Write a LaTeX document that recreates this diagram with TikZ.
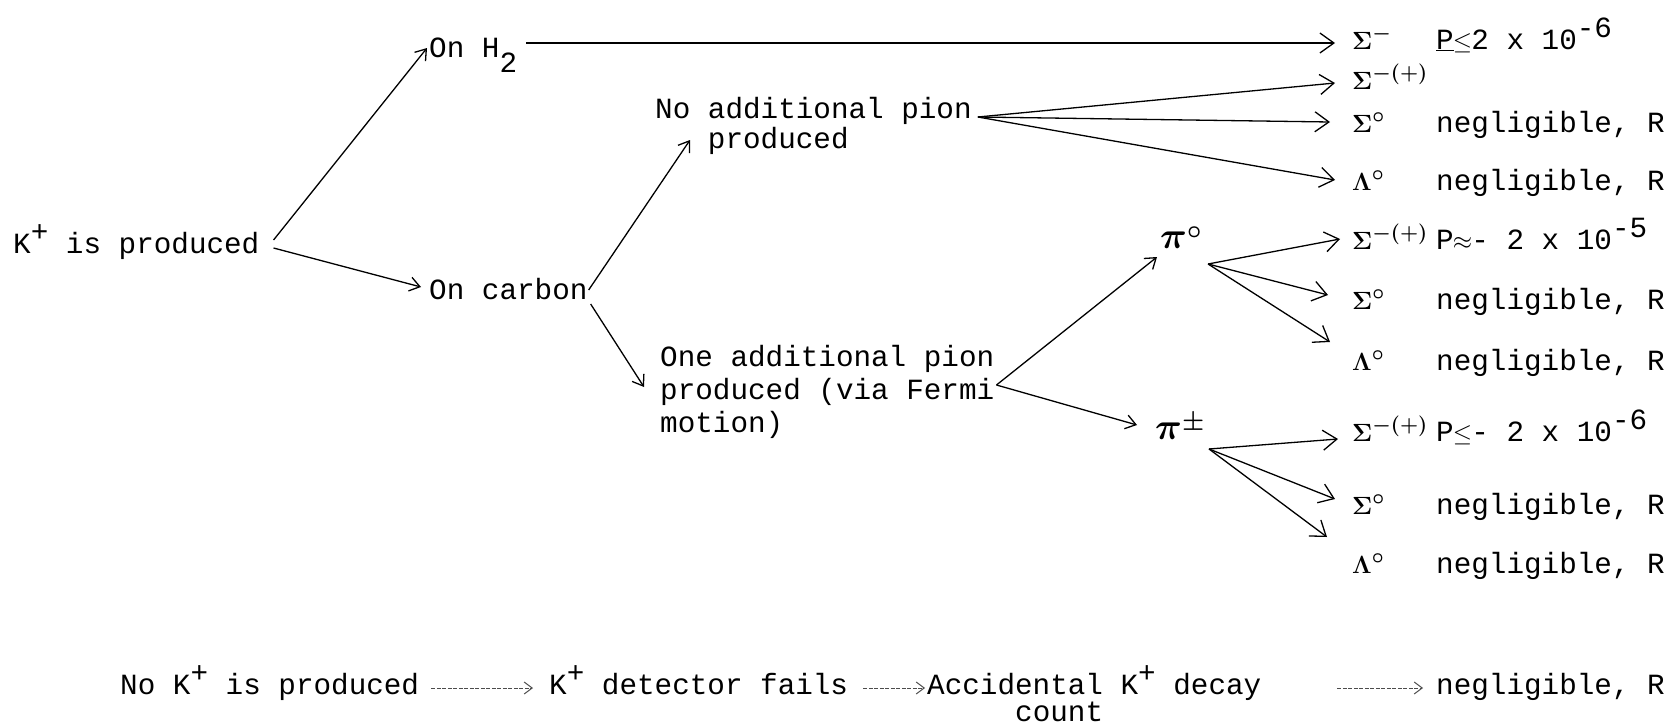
\documentclass[tikz,border=0pt]{standalone}
\usepackage{fontspec}
\setmainfont{Liberation Mono}
\usepackage{graphicx}
\usetikzlibrary{arrows.meta}
\newcommand\twup[1]{\raisebox{12pt}{#1}}
\newcommand\twdn[1]{\raisebox{-15pt}{#1}}
\newcommand\chbox[1]{\makebox[17.58pt]{#1}}
\begin{document}
\begin{tikzpicture}[x=1pt,y=-1pt,
  tw/.style={inner sep=0pt,anchor=base west,font=\fontsize{29.3}{33}\selectfont},
  sym/.style={inner sep=0pt,anchor=base west,font=\fontsize{30}{34}\selectfont\boldmath},
  arr/.style={-{Straight Barb[length=10pt,width=14pt]},line width=1.3pt},
  arrbig/.style={-{Straight Barb[length=14pt,width=20pt]},line width=1.3pt},
  arrdash/.style={-{Straight Barb[length=8pt,width=12pt]},line width=1pt,black!70,dash pattern=on 4pt off 1.5pt}]
\useasboundingbox (0,0) rectangle (1671,728);

% left tree
\node[tw] (kp) at (13,253) {K\twup{+} is produced};
\node[tw] (onh2) at (429,57) {On H\twdn{2}};
\node[tw] (onc) at (429,299) {On carbon};
\node[tw,font=\fontsize{29.3}{30}\selectfont] (noadd) at (655,118)
  {\begin{tabular}[t]{@{}l@{}}No additional pion\\\phantom{No }produced\end{tabular}};
\node[tw,font=\fontsize{29.3}{33}\selectfont] (oneadd) at (660,366)
  {\begin{tabular}[t]{@{}l@{}}One additional pion\\produced (via Fermi\\motion)\end{tabular}};
\node[sym,font=\fontsize{34}{36}\selectfont\boldmath] (pi0) at (1160,248) {$\scalebox{1.5}{$\pi$}^{\circ}$};
\node[sym,font=\fontsize{34}{36}\selectfont\boldmath] (pipm) at (1155,439) {$\scalebox{1.5}{$\pi$}^{\pm}$};

% right column symbols
\node[sym] (s1) at (1352,49) {$\Sigma^{-}$};
\node[sym] (s2) at (1352,89) {$\Sigma^{-(+)}$};
\node[sym] (s3) at (1352,132) {$\Sigma^{\circ}$};
\node[sym] (s4) at (1352,190) {$\Lambda^{\circ}$};
\node[sym] (s5) at (1352,249) {$\Sigma^{-(+)}$};
\node[sym] (s6) at (1352,309) {$\Sigma^{\circ}$};
\node[sym] (s7) at (1352,370) {$\Lambda^{\circ}$};
\node[sym] (s8) at (1352,441) {$\Sigma^{-(+)}$};
\node[sym] (s9) at (1352,514) {$\Sigma^{\circ}$};
\node[sym] (s10) at (1352,573) {$\Lambda^{\circ}$};

% right column texts
\node[tw] (t1) at (1436,49) {\underline{P}\chbox{$\leq$}2 x 10\twup{-6}};
\node[tw] (t3) at (1436,132) {negligible, R};
\node[tw] (t4) at (1436,190) {negligible, R};
\node[tw] (t5) at (1436,249) {P\chbox{$\approx$}- 2 x 10\twup{-5}};
\node[tw] (t6) at (1436,309) {negligible, R};
\node[tw] (t7) at (1436,370) {negligible, R};
\node[tw] (t8) at (1436,441) {P\chbox{$\leq$}- 2 x 10\twup{-6}};
\node[tw] (t9) at (1436,514) {negligible, R};
\node[tw] (t10) at (1436,573) {negligible, R};

% bottom row
\node[tw] (nok) at (120,694) {No K\twup{+} is produced};
\node[tw] (det) at (549,694) {K\twup{+} detector fails};
\node[tw] (acc) at (927,694) {Accidental K\twup{+} decay};
\node[tw] (accb) at (1015,721) {count};
\node[tw] (neg) at (1436,694) {negligible, R};

% connectors
\draw[arr] ([xshift=14pt,yshift=13pt]kp.base east) -- ([xshift=-2pt,yshift=9pt]onh2.base west);
\draw[arr] ([xshift=14pt,yshift=5pt]kp.base east) -- ([xshift=-8pt,yshift=12pt]onc.base west);
\draw[arrbig] ([xshift=9pt,yshift=14pt]onh2.base east) -- ([xshift=-17pt,yshift=6pt]s1.base west);
\draw[arr] ([xshift=1pt,yshift=9pt]onc.base east) -- ([xshift=35pt,yshift=-22pt]noadd.base west);
\draw[arr] ([xshift=3pt,yshift=-5pt]onc.base east) -- ([xshift=-16pt,yshift=-21pt]oneadd.base west);

\draw[arrbig] ([xshift=6pt,yshift=1pt]noadd.base east) -- ([xshift=-17pt,yshift=6pt]s2.base west);
\draw[arrbig] ([xshift=6pt,yshift=1pt]noadd.base east) -- ([xshift=-22pt,yshift=10pt]s3.base west);
\draw[arrbig] ([xshift=6pt,yshift=1pt]noadd.base east) -- ([xshift=-17pt,yshift=10pt]s4.base west);

\draw[arr] ([xshift=2pt,yshift=-19pt]oneadd.base east) -- ([xshift=-3pt,yshift=-9pt]pi0.base west);
\draw[arr] ([xshift=2pt,yshift=-19pt]oneadd.base east) -- ([xshift=-18pt,yshift=14pt]pipm.base west);

\draw[arrbig] ([xshift=6pt,yshift=-16pt]pi0.base east) -- ([xshift=-12pt,yshift=10pt]s5.base west);
\draw[arrbig] ([xshift=6pt,yshift=-16pt]pi0.base east) -- ([xshift=-24pt,yshift=14pt]s6.base west);
\draw[arrbig] ([xshift=6pt,yshift=-16pt]pi0.base east) -- ([xshift=-22pt,yshift=28pt]s7.base west);

\draw[arrbig] ([xshift=4pt,yshift=-10pt]pipm.base east) -- ([xshift=-14pt,yshift=2pt]s8.base west);
\draw[arrbig] ([xshift=4pt,yshift=-10pt]pipm.base east) -- ([xshift=-17pt,yshift=15pt]s9.base west);
\draw[arrbig] ([xshift=4pt,yshift=-10pt]pipm.base east) -- ([xshift=-25pt,yshift=36pt]s10.base west);

\draw[arrdash] ([xshift=12pt,yshift=6pt]nok.base east) -- ([xshift=-16pt,yshift=6pt]det.base west);
\draw[arrdash] ([xshift=15pt,yshift=6pt]det.base east) -- ([xshift=-2pt,yshift=6pt]acc.base west);
\draw[arrdash] ([xshift=76pt,yshift=6pt]acc.base east) -- ([xshift=-13pt,yshift=6pt]neg.base west);
\end{tikzpicture}
\end{document}
